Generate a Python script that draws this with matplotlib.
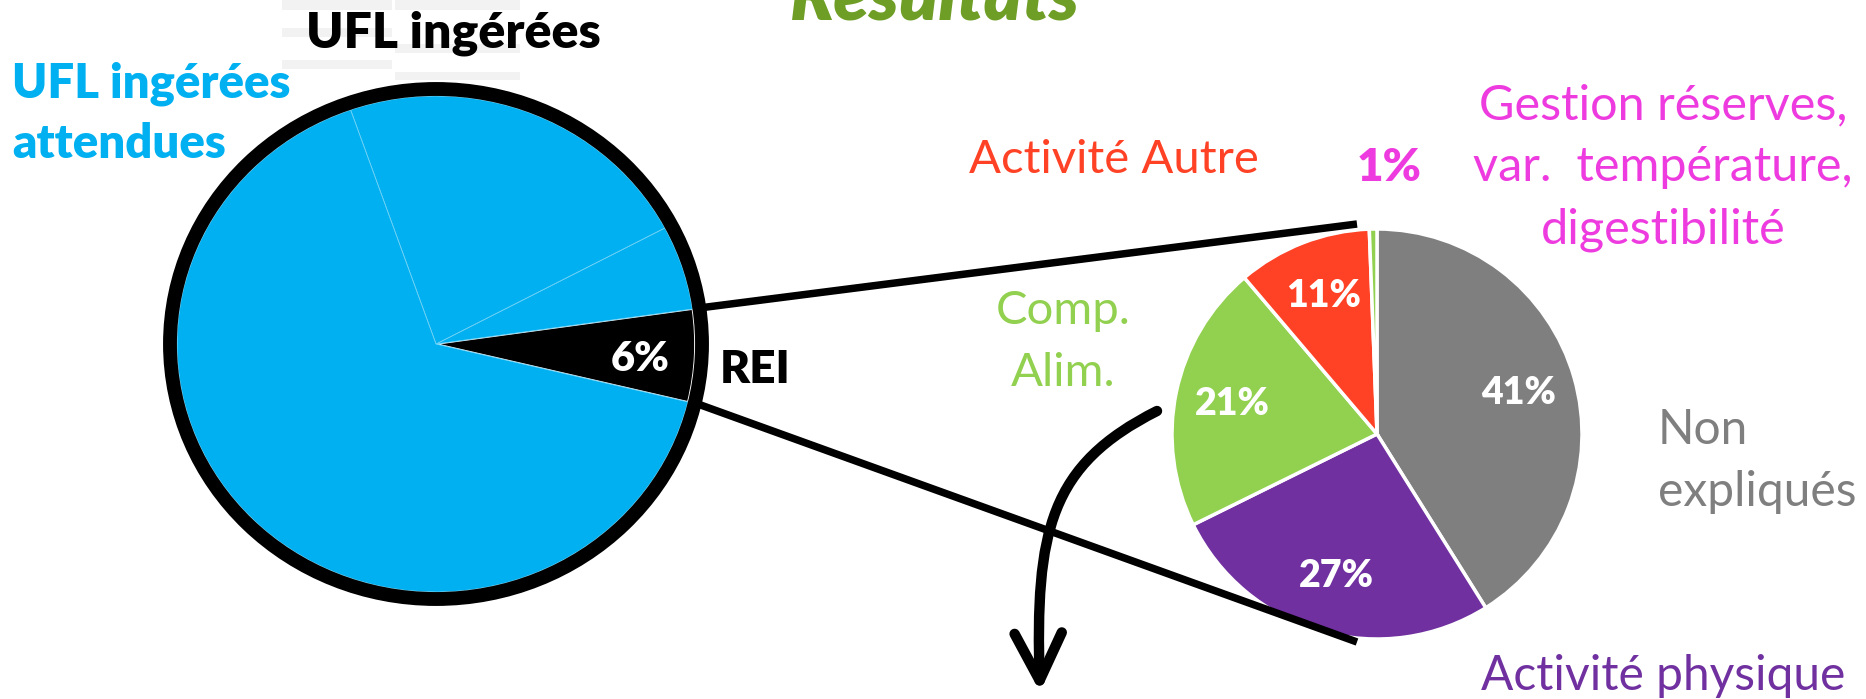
import numpy as np
import matplotlib
matplotlib.use("Agg")
from matplotlib import pyplot as plt
from matplotlib.patches import Ellipse, FancyArrowPatch, Rectangle
from matplotlib.path import Path
from matplotlib.transforms import Affine2D

plt.rcParams['font.family'] = ['Lato', 'DejaVu Sans']

# big pie : UFL ingérées (REI = part non attendue)
ufl_parts = ['REI', 'UFL ingérées', 'UFL ingérées (2)', 'UFL ingérées attendues']
ufl_values = [6, 5.5, 22.6, 65.9]

# zoom pie : decomposition of REI
rei_parts = ['Non expliqués', 'Activité physique', 'Comp. Alim.', 'Activité Autre',
             'Gestion réserves, var. température, digestibilité']
rei_values = [41.1, 26.6, 21.1, 10.6, 0.6]

BLUE = '#00B0F0'
GREY = '#7F7F7F'
PURPLE = '#7030A0'
GREEN = '#92D050'
RED = '#FF4125'
MAGENTA = '#EE3BDF'
TITLE_GREEN = '#6E9E25'
BOLD = 'heavy'

W, H = 1866, 699
fig = plt.figure(figsize=(W / 100, H / 100), dpi=100)
ax = fig.add_axes([0, 0, 1, 1])


def Y(y):
    return H - y


def lines(x, y0, txts, step, **kw):
    for i, t in enumerate(txts):
        ax.text(x, Y(y0 + i * step), t, va='baseline', **kw)


# faint leftovers of a table in the background
for rx, ry, rw, rh in [(282, 0, 110, 10), (395, 0, 125, 10), (282, 28, 110, 9),
                       (395, 44, 125, 9), (282, 60, 110, 9), (395, 72, 125, 8)]:
    ax.add_patch(Rectangle((rx, Y(ry + rh)), rw, rh, color='#F2F2F2', lw=0, zorder=0))

# ---- big pie (slightly elliptic in the slide)
bx, by, brx, bry = 436, Y(344), 259, 248
wedges, _ = ax.pie(ufl_values, colors=['black', BLUE, BLUE, BLUE], startangle=-13.5,
                   wedgeprops=dict(linewidth=0.6, edgecolor='#70D2F6'))
wedges[0].set_edgecolor('white')
wedges[0].set_linewidth(1.2)
big_tr = Affine2D().scale(brx, bry).translate(bx, by) + ax.transData
for w in wedges:
    w.set_transform(big_tr)
ax.add_patch(Ellipse((bx, by), 2 * (brx + 7), 2 * (bry + 7), fill=False,
                     ec='black', lw=10, zorder=3))

mid = np.radians((wedges[0].theta1 + wedges[0].theta2) / 2)
ax.text(bx + 0.79 * brx * np.cos(mid), by + 0.79 * bry * np.sin(mid) - 6,
        f"{ufl_values[0]:.0f}%", color='white', fontsize=30, fontweight=BOLD,
        ha='center', va='center', zorder=4)

# ---- zoom pie
sx, sy, sr = 1377, Y(434), 205
wedges2, _, autot = ax.pie(rei_values, colors=[GREY, PURPLE, GREEN, RED, GREEN],
                           startangle=90, counterclock=False, center=(sx, sy), radius=sr,
                           autopct='%.0f%%', pctdistance=0.72,
                           wedgeprops=dict(edgecolor='white', linewidth=2.5),
                           textprops=dict(color='white', fontsize=27, fontweight=BOLD))
autot[-1].set_position((1389, Y(181)))
autot[-1].set_color(MAGENTA)
autot[-1].set_fontsize(33)
autot[-1].set_va('baseline')

# connecting lines from REI wedge to zoom pie
for th, ey in [(wedges[0].theta2, sy + sr + 5), (wedges[0].theta1, sy - sr - 3)]:
    t = np.radians(th)
    ax.plot([bx + (brx + 13) * np.cos(t), sx - 20], [by + (bry + 13) * np.sin(t), ey],
            color='black', lw=5.4, solid_capstyle='butt', zorder=2)

# curved arrow
arrow_path = Path([(1157, Y(411)), (1050, Y(465)), (1035, Y(530)), (1040, Y(692))],
                  [Path.MOVETO, Path.CURVE4, Path.CURVE4, Path.CURVE4])
ax.add_patch(FancyArrowPatch(path=arrow_path, arrowstyle='->,head_length=34,head_width=17',
                             mutation_scale=1, lw=7.5, color='black',
                             capstyle='round', joinstyle='round', zorder=5))

# ---- texts
ax.text(935, Y(19), 'Résultats', color=TITLE_GREEN, fontsize=52, fontweight=BOLD,
        fontstyle='italic', ha='center', va='baseline')
ax.text(453, Y(48), 'UFL ingérées', color='black', fontsize=36, fontweight=BOLD,
        ha='center', va='baseline')
lines(12, 98, ['UFL ingérées', 'attendues'], 60, color=BLUE, fontsize=34,
      fontweight=BOLD, ha='left')
ax.text(720, Y(383), 'REI', color='black', fontsize=33, fontweight=BOLD,
        ha='left', va='baseline')
ax.text(1114, Y(173), 'Activité Autre', color=RED, fontsize=34, ha='center', va='baseline')
lines(1663, 119, ['Gestion réserves,', 'var.  température,', 'digestibilité'], 62,
      color=MAGENTA, fontsize=35, ha='center')
lines(1063, 324, ['Comp.', 'Alim.'], 62, color=GREEN, fontsize=34, ha='center')
lines(1658, 444, ['Non', 'expliqués'], 62, color=GREY, fontsize=34.5, ha='left')
ax.text(1663, Y(690), 'Activité physique', color=PURPLE, fontsize=34.5,
        ha='center', va='baseline')

ax.set_xlim(0, W)
ax.set_ylim(0, H)
ax.set_aspect('auto')
ax.axis('off')
fig.savefig('out.png', dpi=100)
